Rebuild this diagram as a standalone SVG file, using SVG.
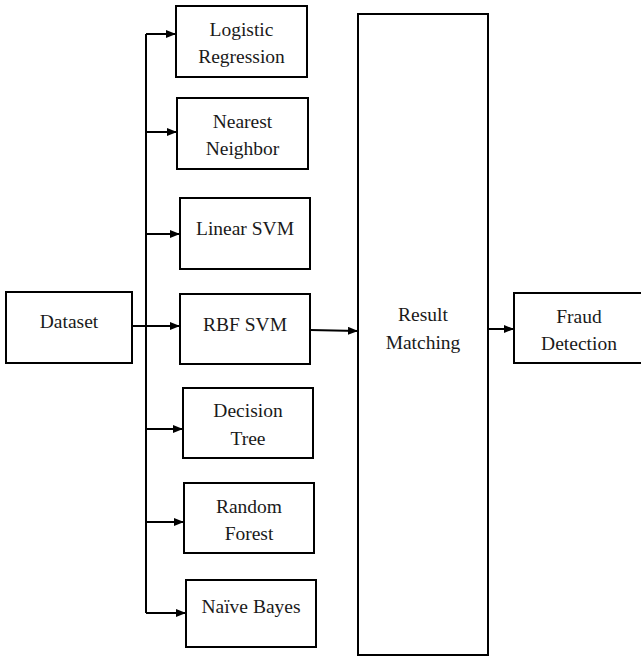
<svg xmlns="http://www.w3.org/2000/svg" width="641" height="659" viewBox="0 0 641 659">
<style>
.box{fill:#fff;stroke:#000;stroke-width:2}
.t{font-size:19.5px;fill:#1a1a1a;text-anchor:middle}
.c{fill:none;stroke:#000;stroke-width:2}
</style>
<defs>
<marker id="ah" viewBox="0 0 10 8" refX="10" refY="4" markerWidth="10" markerHeight="8" markerUnits="userSpaceOnUse" orient="auto">
<path d="M0,0 L10,4 L0,8 Z" fill="#000"/>
</marker>
</defs>
<rect width="641" height="659" fill="#fff"/>
<g id="connectors">
<path class="c" d="M146,34 V613"/>
<path class="c" d="M146,34 H176" marker-end="url(#ah)"/>
<path class="c" d="M146,132 H177" marker-end="url(#ah)"/>
<path class="c" d="M146,234 H180" marker-end="url(#ah)"/>
<path class="c" d="M132,326 H180" marker-end="url(#ah)"/>
<path class="c" d="M146,429 H183" marker-end="url(#ah)"/>
<path class="c" d="M146,522 H184" marker-end="url(#ah)"/>
<path class="c" d="M146,613 H186" marker-end="url(#ah)"/>
<path class="c" d="M310,330 L358,331" marker-end="url(#ah)"/>
<path class="c" d="M487,329 H514" marker-end="url(#ah)"/>
</g>
<g font-family="Liberation Serif, serif">
<g id="dataset"><rect class="box" x="6" y="292" width="126" height="71"/><text class="t" x="69" y="328">Dataset</text></g>
<g id="logistic"><rect class="box" x="176" y="6" width="131" height="71"/><text class="t" x="241.5" y="36">Logistic</text><text class="t" x="241.5" y="63">Regression</text></g>
<g id="nearest"><rect class="box" x="177" y="98" width="131" height="71"/><text class="t" x="242.5" y="128">Nearest</text><text class="t" x="242.5" y="155">Neighbor</text></g>
<g id="linear"><rect class="box" x="180" y="198" width="130" height="71"/><text class="t" x="245" y="235">Linear SVM</text></g>
<g id="rbf"><rect class="box" x="180" y="294" width="130" height="70"/><text class="t" x="245" y="331">RBF SVM</text></g>
<g id="decision"><rect class="box" x="183" y="388" width="130" height="70"/><text class="t" x="248" y="417">Decision</text><text class="t" x="248" y="445">Tree</text></g>
<g id="random"><rect class="box" x="184" y="483" width="130" height="70"/><text class="t" x="249" y="513">Random</text><text class="t" x="249" y="540">Forest</text></g>
<g id="naive"><rect class="box" x="186" y="580" width="130" height="67"/><text class="t" x="251" y="613">Naïve Bayes</text></g>
<g id="result"><rect class="box" x="358" y="14" width="130" height="641"/><text class="t" x="423" y="321">Result</text><text class="t" x="423" y="349">Matching</text></g>
<g id="fraud"><rect class="box" x="514" y="293" width="130" height="70"/><text class="t" x="579" y="323">Fraud</text><text class="t" x="579" y="350">Detection</text></g>
</g>
</svg>
